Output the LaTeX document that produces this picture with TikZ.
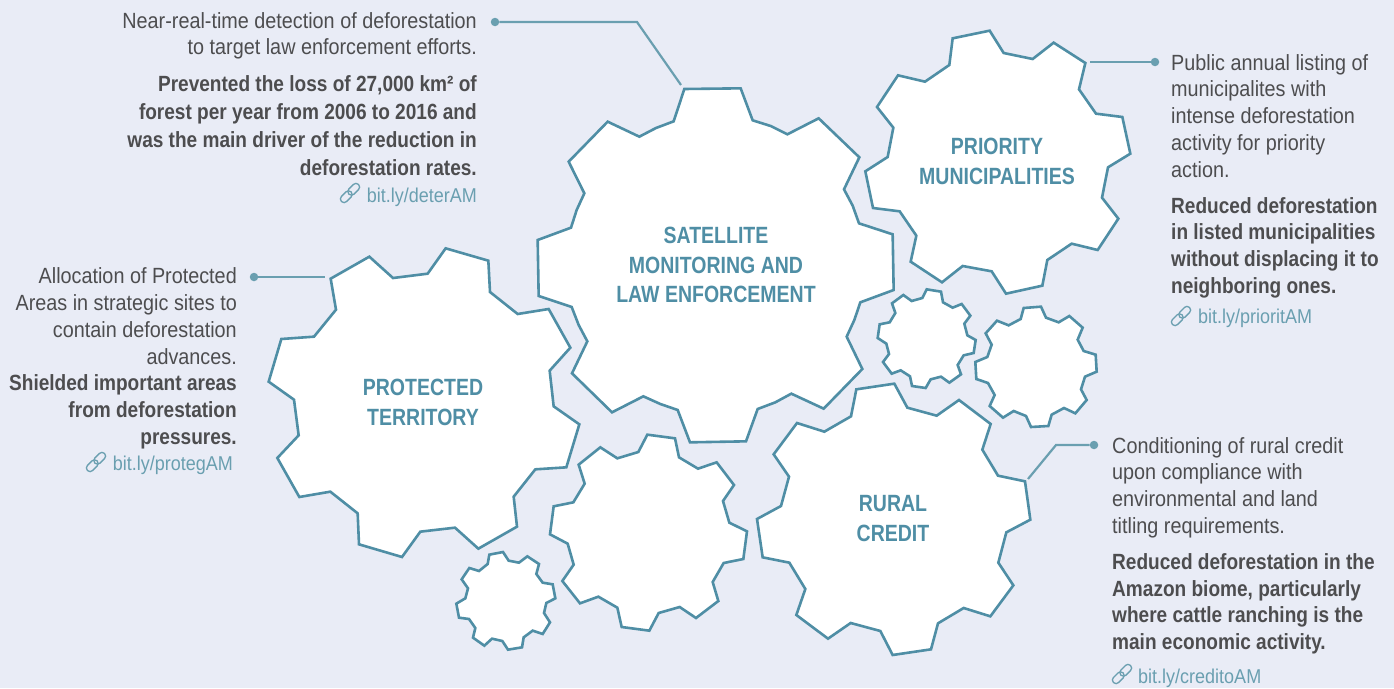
\documentclass[tikz,border=0pt]{standalone}
\usepackage{fontspec}
\setmainfont[FakeStretch=0.90,BoldFeatures={FakeStretch=0.866}]{Liberation Sans}
\newfontfamily\gearfont[FakeStretch=0.83]{Liberation Sans}
\definecolor{bgc}{HTML}{E9ECF6}
\definecolor{gearc}{HTML}{4F8EA5}
\definecolor{leadc}{HTML}{6A9FB0}
\definecolor{txtc}{HTML}{4D4D4F}
\tikzset{
 gear/.style={draw=gearc,fill=white,line width=2.6pt,line join=miter},
 lead/.style={draw=leadc,line width=2.2pt},
 dot/.style={circle,fill=leadc,inner sep=0pt,minimum size=8.5pt},
 gearlabel/.style={text=gearc,font=\gearfont\fontsize{23.5}{29.5}\selectfont\bfseries,align=center,inner sep=0pt},
 body/.style={text=txtc,font=\fontsize{22}{26.8}\selectfont,inner sep=0pt},
 linktext/.style={text=leadc,font=\fontsize{20}{26.6}\selectfont,inner sep=0pt},
 zoomed/.style={x=0.33333pt,y=-0.33333pt}
}
\newcommand{\chainicon}[2]{%
 \begin{scope}[shift={(#1,#2)},rotate=45,draw=leadc,line width=1.3pt]
  \draw[rounded corners=3.4pt,fill=none] (-12,-3.6) rectangle (1.5,3.6);
  \draw[rounded corners=3.4pt,fill=none] (-1.5,-3.6) rectangle (12,3.6);
 \end{scope}}
\begin{document}
\begin{tikzpicture}[x=1pt,y=-1pt]
\useasboundingbox (0,0) rectangle (1394,688);
\fill[bgc] (0,0) rectangle (1394,688);

% satellite gear
\begin{scope}[shift={(520,70)},zoomed]
\draw[gear] (493,57)--(662,55)--(698,151)--(752,168)--(802,193)--(896,145)--(1018,262)--(972,358)--(998,407)--(1017,460)--(1118,493)--(1121,660)--(1021,697)--(1003,750)--(980,800)--(1027,897)--(911,1016)--(814,971)--(766,997)--(713,1017)--(678,1114)--(510,1117)--(473,1020)--(421,1002)--(370,979)--(276,1027)--(156,910)--(202,814)--(176,765)--(155,711)--(56,678)--(53,510)--(153,473)--(170,420)--(193,370)--(146,275)--(263,155)--(358,200)--(408,174)--(461,154)--cycle;
\end{scope}
% priority gear
\begin{scope}[shift={(850,20)},zoomed]
\draw[gear] (308,55)--(419,32)--(461,99)--(548,117)--(611,68)--(706,129)--(687,208)--(738,281)--(817,291)--(841,401)--(774,442)--(756,533)--(805,596)--(743,690)--(665,671)--(592,720)--(577,797)--(468,821)--(425,754)--(338,738)--(276,787)--(182,725)--(199,647)--(149,574)--(69,564)--(46,454)--(113,411)--(130,323)--(81,261)--(144,166)--(225,185)--(298,135)--cycle;
\end{scope}
% protected gear
\begin{scope}[shift={(250,240)},zoomed]
\draw[gear] (358,50)--(429,114)--(533,101)--(587,25)--(715,62)--(720,156)--(803,222)--(896,207)--(961,323)--(899,392)--(911,499)--(988,553)--(949,682)--(856,688)--(791,770)--(801,860)--(685,926)--(615,863)--(511,875)--(456,951)--(327,913)--(323,820)--(241,755)--(148,771)--(82,654)--(146,586)--(132,479)--(56,425)--(94,297)--(192,290)--(258,209)--(242,116)--cycle;
\end{scope}
% rural gear
\begin{scope}[shift={(745,375)},zoomed]
\draw[gear] (334,43)--(448,26)--(487,98)--(575,122)--(642,75)--(737,147)--(712,224)--(759,302)--(840,319)--(856,434)--(784,472)--(760,563)--(805,631)--(736,724)--(656,699)--(579,745)--(558,823)--(443,840)--(406,768)--(317,744)--(249,791)--(154,720)--(181,642)--(133,563)--(53,547)--(36,432)--(108,393)--(132,305)--(86,238)--(156,144)--(238,170)--(318,124)--cycle;
\end{scope}
% lower middle gear
\begin{scope}[shift={(540,425)},zoomed]
\draw[gear] (322,29)--(405,40)--(417,97)--(474,131)--(530,112)--(582,180)--(549,228)--(568,293)--(621,319)--(610,402)--(551,414)--(518,471)--(535,528)--(468,579)--(419,546)--(356,564)--(328,617)--(245,606)--(232,548)--(175,515)--(120,535)--(67,468)--(101,419)--(83,356)--(30,328)--(41,244)--(100,232)--(134,176)--(116,119)--(181,67)--(232,100)--(295,81)--cycle;
\end{scope}
% small gears, right
\begin{scope}[shift={(865,280)},zoomed]
\draw[gear] (185,28)--(228,35)--(234,67)--(263,83)--(290,72)--(316,107)--(298,131)--(307,166)--(332,180)--(326,219)--(296,226)--(278,255)--(288,283)--(253,308)--(228,290)--(197,298)--(182,324)--(141,318)--(135,289)--(107,271)--(80,281)--(54,246)--(72,222)--(64,191)--(38,174)--(44,133)--(74,127)--(91,99)--(81,70)--(115,45)--(140,63)--(172,54)--cycle;
\draw[gear] (476,84)--(528,80)--(543,113)--(581,127)--(613,108)--(653,143)--(638,179)--(656,213)--(692,224)--(695,275)--(660,290)--(648,328)--(665,360)--(631,400)--(597,384)--(560,404)--(550,438)--(498,441)--(483,408)--(446,393)--(414,413)--(374,378)--(389,345)--(369,309)--(334,297)--(331,246)--(367,231)--(380,194)--(362,160)--(396,122)--(431,136)--(467,117)--cycle;
\end{scope}
% small gear, lower left
\begin{scope}[shift={(445,540)},zoomed]
\draw[gear] (133,44)--(174,36)--(191,62)--(222,68)--(247,49)--(282,72)--(274,102)--(293,128)--(323,133)--(331,175)--(304,189)--(297,219)--(315,247)--(293,282)--(263,272)--(236,292)--(231,322)--(189,329)--(172,303)--(141,296)--(118,317)--(84,293)--(91,264)--(72,237)--(42,233)--(34,191)--(61,175)--(69,145)--(50,118)--(73,84)--(102,93)--(128,72)--cycle;
\end{scope}

% gear labels
\node[gearlabel] (satlabel) at (716,265) {SATELLITE\\MONITORING AND\\LAW ENFORCEMENT};
\node[gearlabel] (prilabel) at (997,161.5) {PRIORITY\\MUNICIPALITIES};
\node[gearlabel] (prolabel) at (423,402.5) {PROTECTED\\TERRITORY};
\node[gearlabel] (rurlabel) at (893,518.5) {RURAL\\CREDIT};

% connectors
\node[dot] (d1) at (495,22) {};
\coordinate (e1a) at (637,22);
\coordinate (e1b) at (681,85);
\draw[lead] (d1) -- (e1a) -- (e1b);
\node[dot] (d2) at (1155,62) {};
\coordinate (e2) at (1090,62);
\draw[lead] (d2) -- (e2);
\node[dot] (d3) at (254,277) {};
\coordinate (e3) at (325,277);
\draw[lead] (d3) -- (e3);
\node[dot] (d4) at (1094,445) {};
\coordinate (e4a) at (1056,445);
\coordinate (e4b) at (1028,479);
\draw[lead] (d4) -- (e4a) -- (e4b);

% callout texts
\node[body,anchor=north east,align=right] (t1) at (477,12) {Near-real-time detection of deforestation\\to target law enforcement efforts.\\[9.5pt]
\textbf{Prevented the loss of 27,000 km² of}\\[1.2pt]\textbf{forest per year from 2006 to 2016 and}\\[1.2pt]\textbf{was the main driver of the reduction in}\\[1.2pt]\textbf{deforestation rates.}};
\node[linktext,anchor=base east] (l1) at (477,202) {bit.ly/deterAM};
\chainicon{350}{193}

\node[body,anchor=north west,align=left] (t2) at (1171,54) {Public annual listing of\\municipalites with\\intense deforestation\\activity for priority\\action.\\[9pt]
\textbf{Reduced deforestation}\\\textbf{in listed municipalities}\\\textbf{without displacing it to}\\\textbf{neighboring ones.}};
\node[linktext,anchor=base west] (l2) at (1198,323) {bit.ly/prioritAM};
\chainicon{1181}{316}

\node[body,anchor=north east,align=right] (t3) at (237,267.5) {Allocation of Protected\\Areas in strategic sites to\\contain deforestation\\advances.\\
\textbf{Shielded important areas}\\\textbf{from deforestation}\\\textbf{pressures.}};
\node[linktext,anchor=base east] (l3) at (233,470) {bit.ly/protegAM};
\chainicon{96}{462}

\node[body,anchor=north west,align=left] (t4) at (1112,437) {Conditioning of rural credit\\upon compliance with\\environmental and land\\titling requirements.\\[9pt]
\textbf{Reduced deforestation in the}\\\textbf{Amazon biome, particularly}\\\textbf{where cattle ranching is the}\\\textbf{main economic activity.}};
\node[linktext,anchor=base west] (l4) at (1138,683) {bit.ly/creditoAM};
\chainicon{1122}{674}
\end{tikzpicture}
\end{document}
